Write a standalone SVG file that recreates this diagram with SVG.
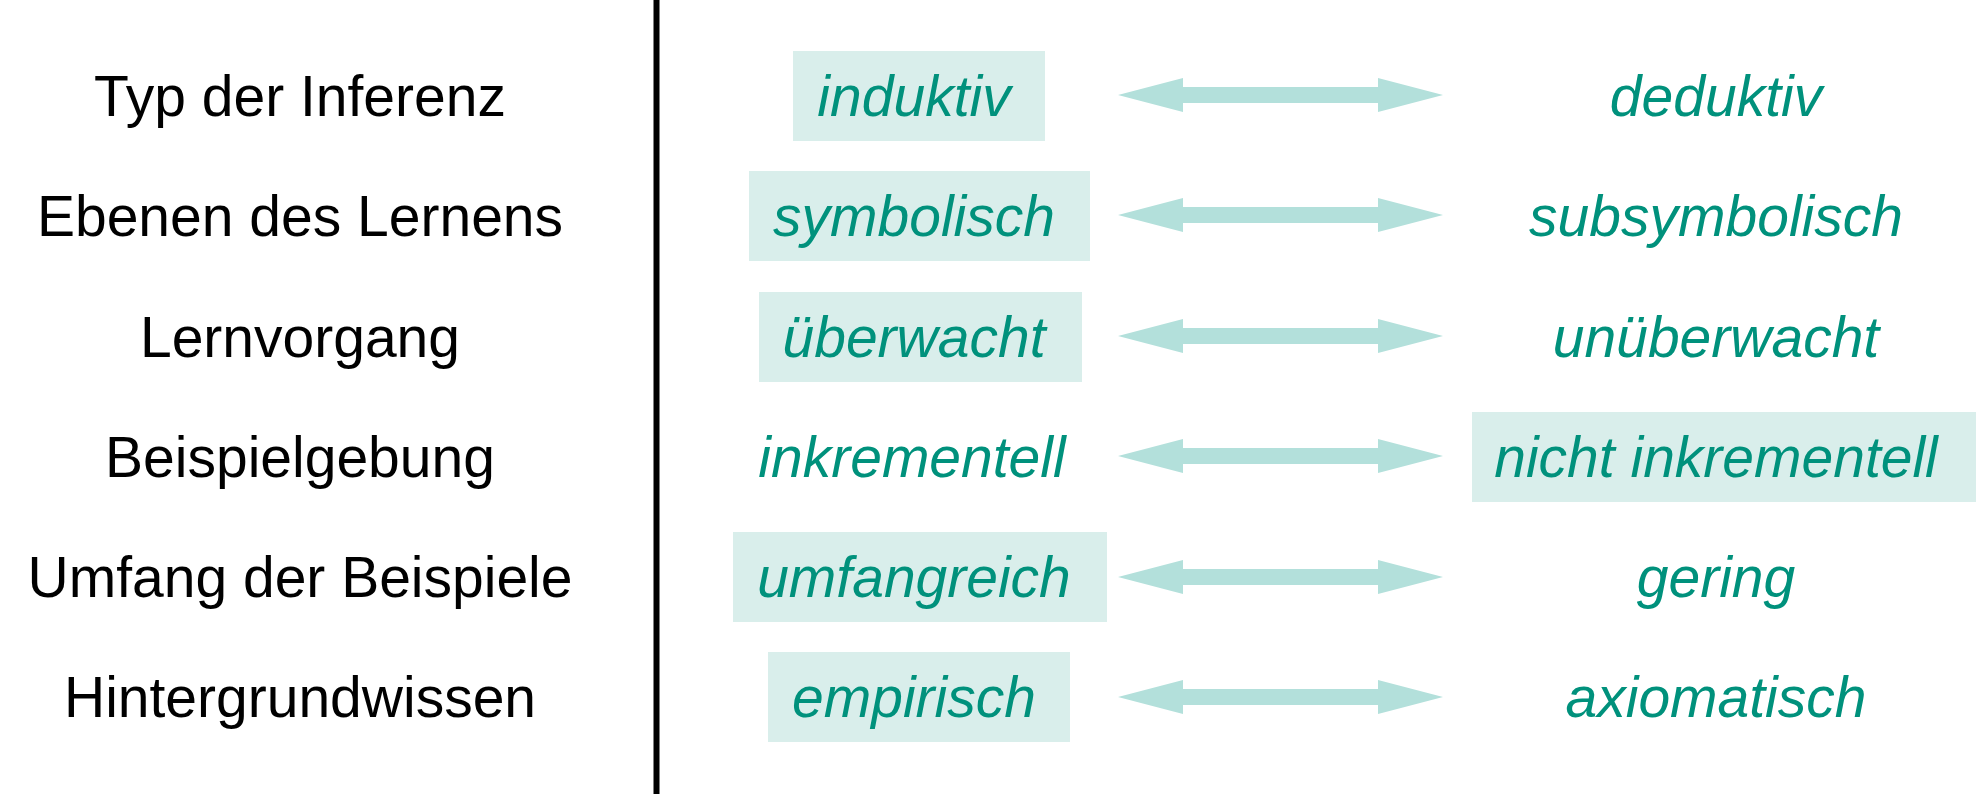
<svg xmlns="http://www.w3.org/2000/svg" width="1984" height="794" viewBox="0 0 1984 794">
<style>
.lbl{font-family:"Liberation Sans",Arial,sans-serif;font-size:57px;fill:#000;text-anchor:middle}
.val{font-family:"Liberation Sans",Arial,sans-serif;font-size:57px;font-style:italic;fill:#00917c;text-anchor:middle}
.box{fill:#d9eeeb}
.arr{fill:#b3e0db}
</style>
<defs>
<path id="dbl" class="arr" d="M0,0 L65,-17 L65,-8 L260,-8 L260,-17 L325,0 L260,17 L260,8 L65,8 L65,17 Z"/>
</defs>
<rect width="1984" height="794" fill="#fff"/>
<line x1="656.5" y1="0" x2="656.5" y2="794" stroke="#000" stroke-width="6"/>
<g id="labels">
<text class="lbl" x="300" y="116">Typ der Inferenz</text>
<text class="lbl" x="300" y="236">Ebenen des Lernens</text>
<text class="lbl" x="300" y="357">Lernvorgang</text>
<text class="lbl" x="300" y="477">Beispielgebung</text>
<text class="lbl" x="300" y="597">Umfang der Beispiele</text>
<text class="lbl" x="300" y="717">Hintergrundwissen</text>
</g>
<g id="connectors">
<use href="#dbl" x="1118" y="95"/>
<use href="#dbl" x="1118" y="215"/>
<use href="#dbl" x="1118" y="336"/>
<use href="#dbl" x="1118" y="456"/>
<use href="#dbl" x="1118" y="577"/>
<use href="#dbl" x="1118" y="697"/>
</g>
<g id="induktiv"><rect class="box" x="793" y="51" width="252" height="90"/><text class="val" x="914" y="116">induktiv</text></g>
<g id="deduktiv"><text class="val" x="1716" y="116">deduktiv</text></g>
<g id="symbolisch"><rect class="box" x="749" y="171" width="341" height="90"/><text class="val" x="914" y="236">symbolisch</text></g>
<g id="subsymbolisch"><text class="val" x="1716" y="236">subsymbolisch</text></g>
<g id="ueberwacht"><rect class="box" x="759" y="292" width="323" height="90"/><text class="val" x="914" y="357">überwacht</text></g>
<g id="unueberwacht"><text class="val" x="1716" y="357">unüberwacht</text></g>
<g id="inkrementell"><text class="val" x="912" y="477">inkrementell</text></g>
<g id="nicht-inkrementell"><rect class="box" x="1472" y="412" width="504" height="90"/><text class="val" x="1716" y="477">nicht inkrementell</text></g>
<g id="umfangreich"><rect class="box" x="733" y="532" width="374" height="90"/><text class="val" x="914" y="597">umfangreich</text></g>
<g id="gering"><text class="val" x="1716" y="597">gering</text></g>
<g id="empirisch"><rect class="box" x="768" y="652" width="302" height="90"/><text class="val" x="914" y="717">empirisch</text></g>
<g id="axiomatisch"><text class="val" x="1716" y="717">axiomatisch</text></g>
</svg>
